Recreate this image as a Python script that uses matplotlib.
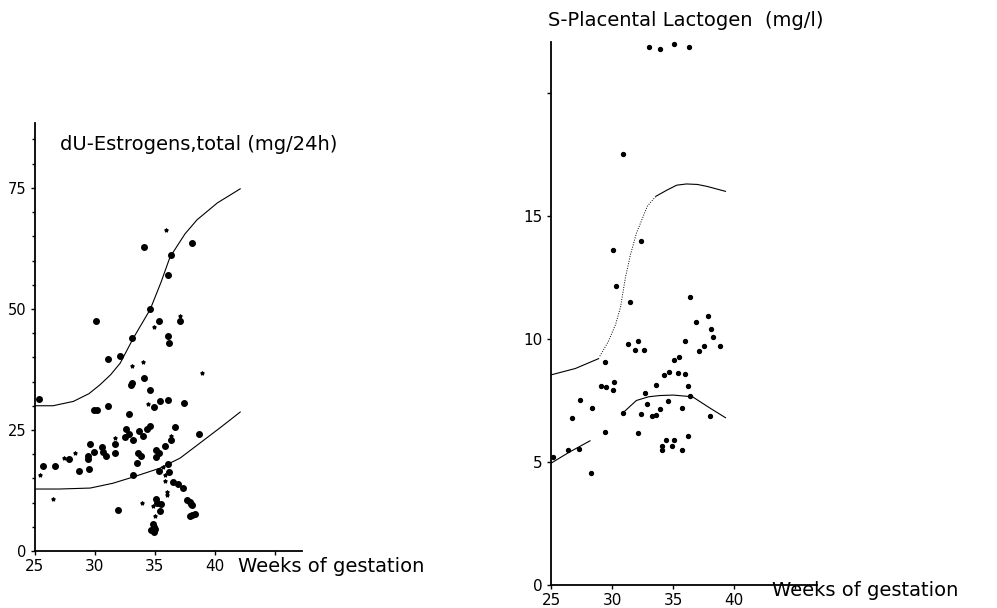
import matplotlib
matplotlib.use("Agg")
import matplotlib.pyplot as plt

plt.rcParams['font.family'] = ['DejaVu Sans']

# ---- left panel: urinary estrogens ----
estr_big_x = [34.1, 38.1, 36.3, 36.1, 34.6, 30.1, 35.3, 37.1, 36.1, 36.2,
              33.1, 31.1, 32.1, 34.1, 33.0, 33.1, 34.6, 25.3, 34.9, 35.4,
              36.1, 37.4, 31.1, 29.9, 30.2, 32.8, 32.6, 32.8, 32.5, 33.2,
              33.7, 34.0, 34.3, 34.6, 36.7, 36.3, 38.7, 31.7, 29.6, 30.6,
              29.9, 30.7, 30.9, 31.7, 29.4, 29.4, 33.6, 33.8, 35.1, 35.3,
              35.1, 35.8, 33.5, 27.8, 25.7, 26.7, 28.7, 29.5, 33.2, 35.3,
              36.1, 36.2, 36.5, 36.9, 37.3, 37.7, 37.9, 38.0, 38.1, 38.1,
              38.3, 37.9, 31.9, 35.1, 35.2, 35.5, 35.4, 34.8, 34.9, 35.0,
              34.9, 34.7]
estr_big_y = [62.8, 63.6, 61.1, 57.1, 49.9, 47.5, 47.5, 47.5, 44.4, 42.9,
              44.0, 39.6, 40.3, 35.7, 34.3, 34.6, 33.3, 31.3, 29.7, 30.9,
              31.2, 30.6, 30.0, 29.1, 29.1, 28.2, 25.1, 24.2, 23.6, 22.9,
              24.7, 23.8, 25.1, 25.9, 25.6, 22.9, 24.2, 22.2, 22.1, 21.5,
              20.5, 20.5, 19.6, 20.2, 19.6, 19.0, 20.3, 19.6, 20.9, 20.3,
              19.4, 21.7, 18.2, 18.9, 17.6, 17.6, 16.6, 16.9, 15.6, 16.6,
              18.0, 16.3, 14.3, 13.8, 13.0, 10.5, 10.2, 9.8, 9.5, 7.5,
              7.7, 7.2, 8.4, 10.7, 10.0, 9.7, 8.3, 5.6, 5.0, 4.6,
              4.0, 4.3]
estr_small_x = [35.9, 34.9, 37.1, 33.1, 34.0, 38.9, 34.4, 36.3, 31.7, 27.4,
                28.3, 25.4, 35.7, 35.8, 35.8, 26.5, 33.9, 36.0, 36.0, 34.8,
                35.0]
estr_small_y = [66.4, 46.3, 48.6, 38.2, 39.1, 36.7, 30.4, 23.8, 23.3, 19.3,
                20.3, 15.6, 17.4, 15.6, 14.4, 10.7, 10.0, 12.2, 11.6, 9.2,
                7.3]
estr_upper_x = [25.0, 26.5, 28.2, 29.5, 30.4, 31.3, 32.1, 33.2, 34.6, 35.5,
                36.25, 37.5, 38.5, 40.2, 42.1]
estr_upper_y = [30.0, 30.0, 30.9, 32.5, 34.3, 36.4, 38.8, 44.0, 49.9, 55.5,
                60.7, 65.5, 68.4, 71.9, 74.8]
estr_lower_x = [25.0, 27.0, 29.6, 31.5, 33.2, 35.4, 37.1, 38.75, 40.5, 42.1]
estr_lower_y = [12.8, 12.8, 13.0, 14.0, 15.3, 17.1, 19.2, 22.3, 25.6, 28.7]

# ---- right panel: placental lactogen ----
hpl_x = [33.0, 33.9, 35.1, 36.3, 30.9, 30.05, 32.4, 30.3, 36.4, 31.5,
         36.9, 37.9, 38.1, 38.3, 38.85, 37.5, 37.1, 36.0, 31.3, 32.1,
         31.9, 32.65, 35.1, 35.5, 34.3, 34.7, 35.4, 36.0, 36.2, 36.4,
         33.6, 29.4, 29.1, 29.5, 30.05, 30.2, 32.7, 27.4, 26.7, 28.4,
         30.9, 32.9, 34.6, 32.4, 33.3, 33.6, 33.95, 35.7, 38.0, 32.1,
         29.4, 34.4, 35.1, 36.2, 34.1, 34.1, 34.9, 35.7, 26.4, 27.3,
         25.2, 28.3]
hpl_y = [21.86, 21.8, 22.0, 21.86, 17.5, 13.6, 14.0, 12.15, 11.7, 11.5,
         10.7, 10.95, 10.4, 10.1, 9.7, 9.7, 9.5, 9.9, 9.8, 9.9,
         9.55, 9.55, 9.15, 9.25, 8.54, 8.67, 8.63, 8.56, 8.09, 7.68,
         8.13, 9.05, 8.09, 8.06, 7.93, 8.25, 7.79, 7.52, 6.8, 7.2,
         7.0, 7.36, 7.47, 6.94, 6.87, 6.9, 7.15, 7.2, 6.88, 6.19,
         6.23, 5.88, 5.91, 6.06, 5.66, 5.49, 5.65, 5.49, 5.49, 5.53,
         5.19, 4.54]
hpl_up1_x = [25.0, 27.0, 28.9]
hpl_up1_y = [8.54, 8.8, 9.2]
hpl_up2_x = [29.0, 29.7, 30.3, 30.7, 31.1, 31.5, 32.0, 32.9, 33.6]
hpl_up2_y = [9.3, 9.9, 10.6, 11.3, 12.5, 13.4, 14.3, 15.4, 15.8]
hpl_up3_x = [33.6, 34.5, 35.3, 36.1, 37.0, 37.8, 39.3]
hpl_up3_y = [15.8, 16.05, 16.25, 16.3, 16.28, 16.2, 16.0]
hpl_lo1_x = [25.0, 26.5, 28.2]
hpl_lo1_y = [4.95, 5.4, 5.86]
hpl_lo2_x = [30.9, 32.0, 33.0, 33.9, 35.0, 36.6, 38.0, 39.3]
hpl_lo2_y = [7.0, 7.5, 7.65, 7.7, 7.72, 7.65, 7.2, 6.8]

fig = plt.figure(figsize=(9.97, 6.08), dpi=100)


def style_axes(ax):
    for s in ['top', 'right']:
        ax.spines[s].set_visible(False)
    for s in ['left', 'bottom']:
        ax.spines[s].set_linewidth(1.3)
    ax.tick_params(which='both', direction='out', length=3, width=1, pad=3)
    ax.tick_params(which='minor', length=2)


# left
ax1 = fig.add_axes([35 / 997, 1 - 551 / 608, 267 / 997, 428 / 608])
ax1.set_xlim(25, 47.25)
ax1.set_ylim(0, 88.4)
style_axes(ax1)
ax1.plot(estr_upper_x, estr_upper_y, color='black', lw=0.8)
ax1.plot(estr_lower_x, estr_lower_y, color='black', lw=0.8)
ax1.scatter(estr_big_x, estr_big_y, s=16, color='black', clip_on=False)
ax1.scatter(estr_small_x, estr_small_y, s=6, color='black', marker='*', clip_on=False)
ax1.set_xticks([25, 30, 35, 40, 45])
ax1.set_xticklabels(['25', '30', '35', '40', ''], fontsize=11)
ax1.set_yticks([0, 25, 50, 75])
ax1.set_yticklabels(['0', '25', '50', '75'], fontsize=10.5)
ax1.set_yticks(range(0, 90, 5), minor=True)
fig.text(60 / 997, 1 - 145 / 608, 'dU-Estrogens,total (mg/24h)',
         fontsize=14, va='center', ha='left')
fig.text(238 / 997, 1 - 566 / 608, 'Weeks of gestation',
         fontsize=14, va='center', ha='left')

# right
ax2 = fig.add_axes([551 / 997, 1 - 585 / 608, 266 / 997, 543 / 608])
ax2.set_xlim(25, 46.8)
ax2.set_ylim(0, 22.07)
style_axes(ax2)
ax2.plot(hpl_up1_x, hpl_up1_y, color='black', lw=0.8)
ax2.plot(hpl_up2_x, hpl_up2_y, color='black', lw=0.7, ls=(0, (1, 1.5)))
ax2.plot(hpl_up3_x, hpl_up3_y, color='black', lw=0.8)
ax2.plot(hpl_lo1_x, hpl_lo1_y, color='black', lw=0.8)
ax2.plot(hpl_lo2_x, hpl_lo2_y, color='black', lw=0.8)
ax2.scatter(hpl_x, hpl_y, s=8, color='black', clip_on=False)
ax2.set_xticks([25, 30, 35, 40, 45])
ax2.set_xticklabels(['25', '30', '35', '40', ''], fontsize=11)
ax2.set_yticks([0, 5, 10, 15, 20])
ax2.set_yticklabels(['0', '5', '10', '15', ''], fontsize=11)
fig.text(548 / 997, 1 - 20 / 608, 'S-Placental Lactogen  (mg/l)',
         fontsize=14, va='center', ha='left')
fig.text(772 / 997, 1 - 591 / 608, 'Weeks of gestation',
         fontsize=14, va='center', ha='left')

fig.savefig('out.png', dpi=100)
